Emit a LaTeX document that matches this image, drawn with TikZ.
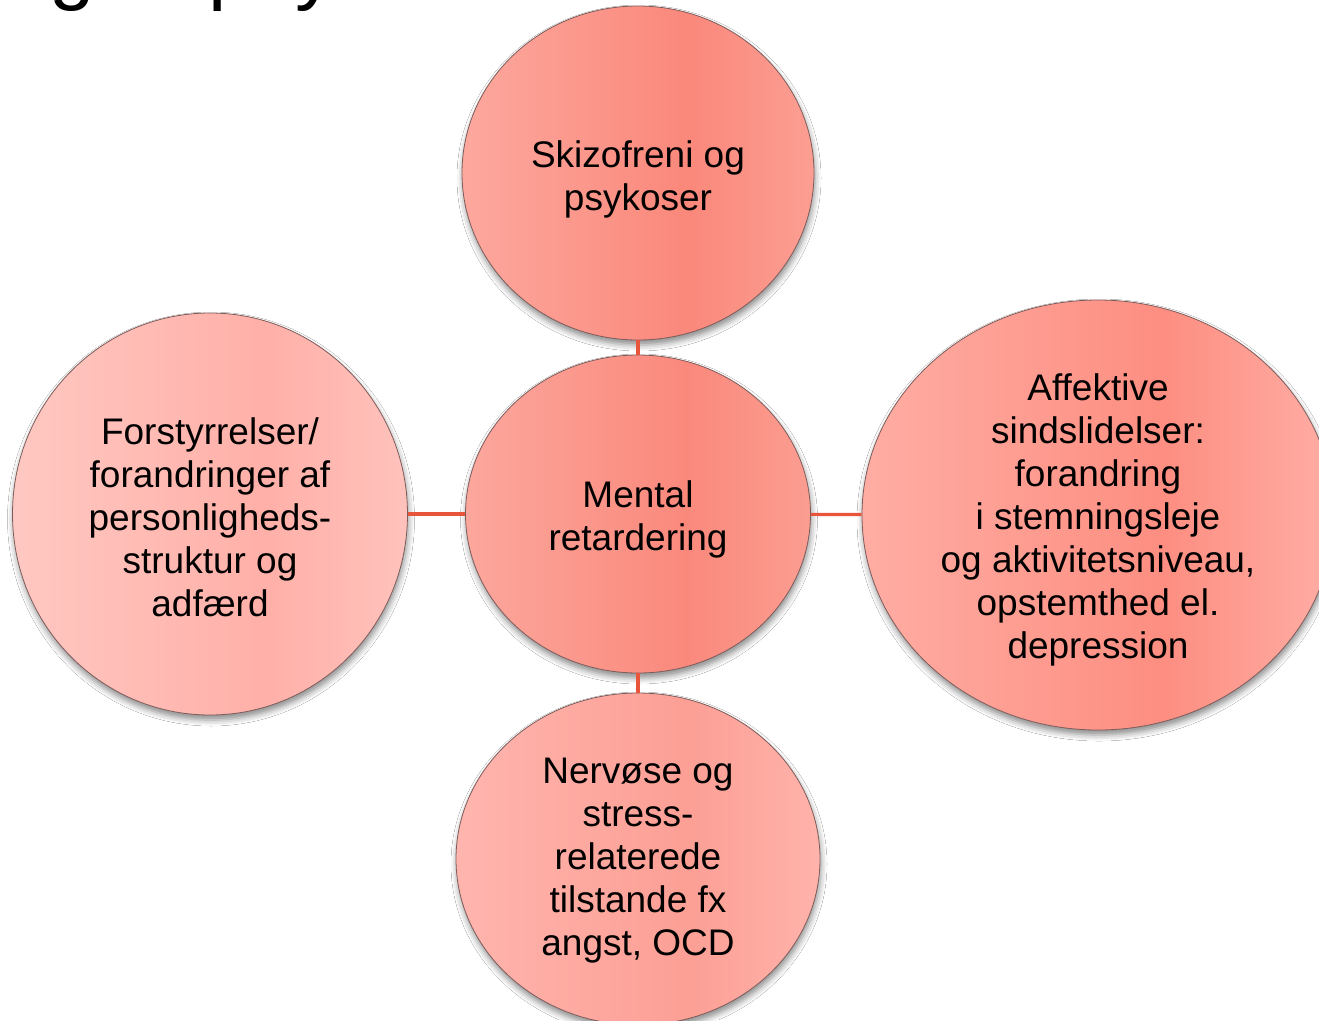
\documentclass[tikz,border=0pt]{standalone}
\usepackage{fontspec}
\setmainfont{Liberation Sans}
\usetikzlibrary{shapes.geometric,shadows.blur}

% palette
\definecolor{linkred}{HTML}{E8553A}
\definecolor{rimbrown}{HTML}{7E5C5A}
\definecolor{tL}{HTML}{FDA89E}\definecolor{tM}{HTML}{FA887B}\definecolor{tR}{HTML}{FC9E93}
\definecolor{cL}{HTML}{FCA79D}\definecolor{cM}{HTML}{FA897C}\definecolor{cR}{HTML}{FB9D91}
\definecolor{lL}{HTML}{FFC8C2}\definecolor{lM}{HTML}{FFB0A8}\definecolor{lR}{HTML}{FFC2BC}
\definecolor{rL}{HTML}{FFADA4}\definecolor{rM}{HTML}{FD8E81}\definecolor{rR}{HTML}{FFADA5}
\definecolor{bL}{HTML}{FFB5AE}\definecolor{bM}{HTML}{FC9F95}\definecolor{bR}{HTML}{FFB3AB}

% left-to-right fills: light edge, darker band right of the middle
\newcommand\bubbleshade[4]{%
  \pgfdeclarehorizontalshading{#1}{100bp}{color(0bp)=(#2); color(25bp)=(#2);
    color(57bp)=(#3); color(75bp)=(#4); color(100bp)=(#4)}}
\bubbleshade{shTop}{tL}{tM}{tR}
\bubbleshade{shCtr}{cL}{cM}{cR}
\bubbleshade{shLeft}{lL}{lM}{lR}
\bubbleshade{shRight}{rL}{rM}{rR}
\bubbleshade{shBot}{bL}{bM}{bR}

\tikzset{
  bubble/.style={ellipse, draw=rimbrown, line width=0.8pt, inner sep=0pt,
    blur shadow={shadow xshift=1pt, shadow yshift=-5pt,
      shadow blur radius=6pt, shadow opacity=45}},
  txt/.style={align=center, inner sep=0pt, text=black,
    font=\fontsize{37}{43}\selectfont},
  link/.style={draw=linkred, line width=3.2pt},
}

\begin{document}
\begin{tikzpicture}[x=1pt,y=-1pt]
  \useasboundingbox (0,0) rectangle (1319,1020);
  \fill[white] (0,0) rectangle (1319,1020);
  \clip (0,0) rectangle (1319,1020);

  % heading, only its lower edge falls inside the frame
  \node[anchor=base west, inner sep=0pt, font=\fontsize{82}{90}\selectfont]
    (heading) at (49,-6) {g af psy};

  % circles
  \node[bubble, shading=shTop, minimum width=352pt, minimum height=334pt]
    (top) at (638,173) {};
  \node[bubble, shading=shLeft, minimum width=395pt, minimum height=402pt]
    (left) at (210,514) {};
  \node[bubble, shading=shRight, minimum width=472pt, minimum height=430pt]
    (right) at (1098,515) {};
  \node[bubble, shading=shBot, minimum width=364pt, minimum height=332pt]
    (bot) at (638,859) {};
  \node[bubble, shading=shCtr, minimum width=345pt, minimum height=318pt]
    (ctr) at (638,514) {};

  % connectors
  \draw[link] (top) -- (ctr);
  \draw[link] (ctr) -- (bot);
  \draw[link] (left) -- (ctr);
  \draw[link] (ctr) -- (right);

  % labels
  \node[txt] (top-t) at (638,179) {Skizofreni og\\psykoser};
  \node[txt] (ctr-t) at (638,519) {Mental\\retardering};
  \node[txt] (left-t) at (210,517)
    {Forstyrrelser/\\forandringer af\\personligheds-\\struktur og\\adfærd};
  \node[txt] (right-t) at (1098,520)
    {Affektive\\sindslidelser:\\forandring\\i stemningsleje\\og aktivitetsniveau,\\opstemthed el.\\depression};
  \node[txt] (bot-t) at (638,861)
    {Nervøse og\\stress-\\relaterede\\tilstande fx\\angst, OCD};
\end{tikzpicture}
\end{document}
